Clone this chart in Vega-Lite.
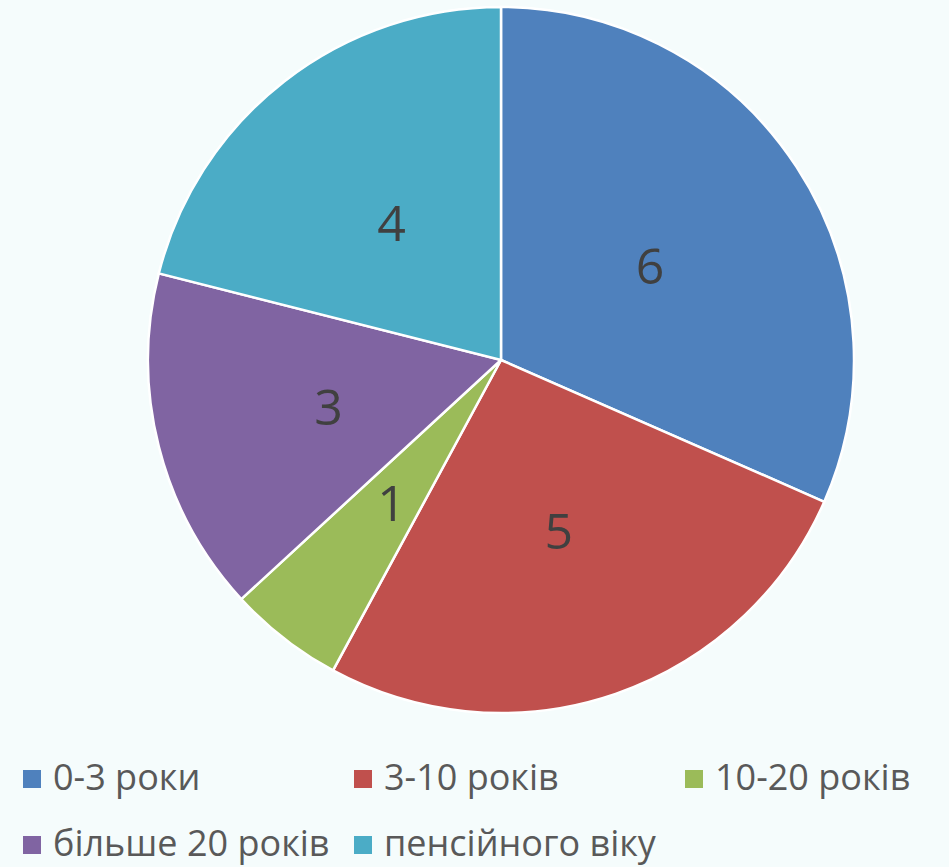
{
  "$schema": "https://vega.github.io/schema/vega-lite/v6.json",
  "autosize": "none",
  "width": 706,
  "height": 706,
  "padding": {"left": 148, "top": 7, "right": 95, "bottom": 154},
  "background": "#f5fcfc",
  "config": {"view": {"stroke": null}},
  "data": {"values": [
    {"category": "0-3 роки", "value": 6, "order": 1},
    {"category": "3-10 років", "value": 5, "order": 2},
    {"category": "10-20 років", "value": 1, "order": 3},
    {"category": "більше 20 років", "value": 3, "order": 4},
    {"category": "пенсійного віку", "value": 4, "order": 5}
  ]},
  "encoding": {
    "theta": {"field": "value", "type": "quantitative", "stack": true},
    "order": {"field": "order", "type": "quantitative"},
    "color": {
      "field": "category", "type": "nominal",
      "sort": ["0-3 роки", "3-10 років", "10-20 років", "більше 20 років", "пенсійного віку"],
      "scale": {
        "domain": ["0-3 роки", "3-10 років", "10-20 років", "більше 20 років", "пенсійного віку"],
        "range": ["#4f81bd", "#c0504d", "#9bbb59", "#8064a2", "#4bacc6"]
      },
      "legend": {
        "title": null,
        "orient": "none",
        "legendX": -134,
        "legendY": 754,
        "direction": "horizontal",
        "columns": 3,
        "gridAlign": "all",
        "columnPadding": 15,
        "rowPadding": 30,
        "symbolType": "square",
        "symbolSize": 324,
        "symbolStrokeWidth": 0,
        "labelOffset": 3,
        "labelFont": "Open Sans",
        "labelFontSize": 36,
        "labelColor": "#595959",
        "labelLimit": 400
      }
    }
  },
  "layer": [
    {
      "mark": {"type": "arc", "outerRadius": 353, "stroke": "white", "strokeWidth": 2.5}
    },
    {
      "mark": {"type": "text", "radius": 178, "dy": 6, "font": "Open Sans", "fontSize": 50, "baseline": "middle", "align": "center"},
      "encoding": {
        "text": {"field": "value", "type": "quantitative"},
        "color": {"value": "#404040"}
      }
    }
  ]
}
